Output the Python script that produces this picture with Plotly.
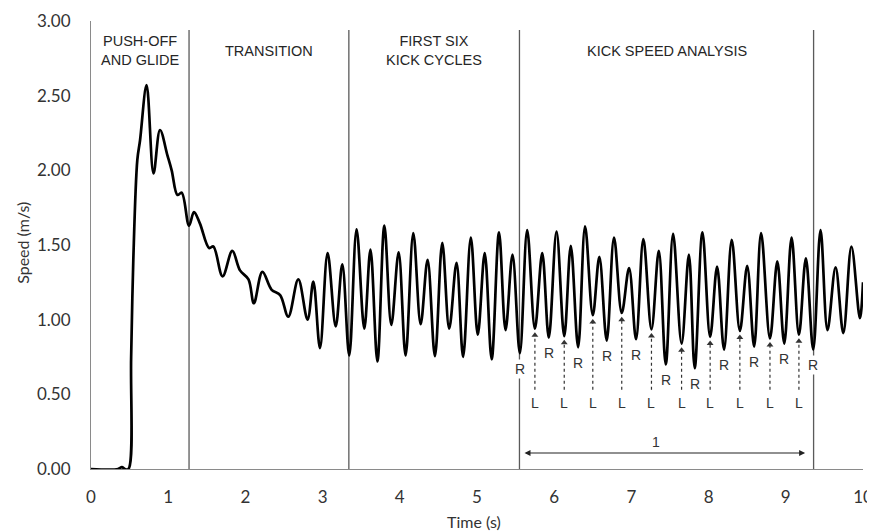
import numpy as np
import plotly.graph_objects as go

# ---- data ----
time_s = [0, 0.35, 0.40, 0.44, 0.485, 0.52, 0.548, 0.60, 0.635, 0.72, 0.81, 0.894, 0.99, 1.045,
          1.12, 1.175, 1.27, 1.334, 1.41, 1.53, 1.585, 1.705, 1.83, 1.93, 2.04, 2.11, 2.22, 2.34,
          2.45, 2.555, 2.685, 2.805, 2.88, 2.966, 3.065, 3.17, 3.255, 3.345, 3.44, 3.54, 3.62,
          3.71, 3.80, 3.89, 3.985, 4.075, 4.175, 4.27, 4.36, 4.455, 4.55, 4.64, 4.735, 4.82,
          4.92, 5.01, 5.10, 5.19, 5.285, 5.37, 5.46, 5.555, 5.65, 5.75, 5.845, 5.93, 6.03, 6.13,
          6.215, 6.31, 6.40, 6.50, 6.585, 6.68, 6.775, 6.875, 6.97, 7.06, 7.155, 7.26, 7.355,
          7.445, 7.54, 7.65, 7.745, 7.82, 7.92, 8.02, 8.11, 8.20, 8.30, 8.405, 8.50, 8.59, 8.68,
          8.795, 8.89, 8.98, 9.075, 9.17, 9.26, 9.355, 9.45, 9.54, 9.645, 9.745, 9.85, 9.96, 10.0]
speed = [0, 0, 0.012, 0.0, 0.0, 0.75, 1.40, 2.07, 2.20, 2.57, 1.98, 2.27, 2.10, 2.00,
         1.835, 1.85, 1.63, 1.72, 1.645, 1.48, 1.49, 1.29, 1.46, 1.33, 1.27, 1.11, 1.32, 1.20,
         1.165, 1.02, 1.27, 1.00, 1.255, 0.81, 1.445, 0.955, 1.37, 0.76, 1.605, 0.94, 1.47,
         0.72, 1.63, 0.965, 1.45, 0.76, 1.58, 0.97, 1.40, 0.755, 1.515, 0.94, 1.38, 0.75,
         1.55, 0.90, 1.445, 0.735, 1.585, 0.93, 1.435, 0.775, 1.60, 0.94, 1.445, 0.88, 1.59, 0.89,
         1.495, 0.815, 1.625, 1.03, 1.42, 0.86, 1.55, 1.045, 1.345, 0.87, 1.54, 0.935, 1.46,
         0.70, 1.575, 0.84, 1.435, 0.675, 1.585, 0.885, 1.355, 0.80, 1.535, 0.925, 1.36, 0.82, 1.58,
         0.875, 1.39, 0.84, 1.55, 0.90, 1.41, 0.80, 1.60, 0.93, 1.35, 0.91, 1.49, 1.01, 1.25]

phase_bounds = [1.27, 3.34, 5.55, 9.36]
phase_labels = ["PUSH-OFF<br>AND GLIDE", "TRANSITION", "FIRST SIX<br>KICK CYCLES", "KICK SPEED ANALYSIS"]
phase_top = 2.94
x_ticks = [0, 1, 2, 3, 4, 5, 6, 7, 8, 9, 10]
y_ticks = [0.0, 0.5, 1.0, 1.5, 2.0, 2.5, 3.0]
window_arrow = [5.596, 9.25]
window_arrow_y = 0.107
window_label = "1"
window_label_x = 7.32

# ---- derived: troughs in the kick analysis window, alternating R / L ----
t = np.array(time_s)
v = np.array(speed)
trough_idx = [i for i in range(1, len(v) - 1)
              if v[i] < v[i - 1] and v[i] < v[i + 1]
              and phase_bounds[2] - 0.05 <= t[i] <= phase_bounds[3] + 0.05]
r_idx = trough_idx[0::2]
l_idx = trough_idx[1::2]

fig = go.Figure()

# phase boundary lines
for b in phase_bounds:
    fig.add_shape(type="line", x0=b, x1=b, y0=0, y1=phase_top, xref="x", yref="y",
                  line=dict(color="#5a5a5a", width=1.3), layer="below")

# speed curve
fig.add_trace(go.Scatter(x=time_s, y=speed, mode="lines",
                         line=dict(color="black", width=2.7, shape="spline", smoothing=1.0),
                         hoverinfo="skip", showlegend=False))

# dashed L arrows
ax_, ay_ = [], []
for i in l_idx:
    ax_ += [t[i], t[i], None]
    ay_ += [0.53, v[i] - 0.05, None]
fig.add_trace(go.Scatter(x=ax_, y=ay_, mode="lines",
                         line=dict(color="#333333", width=1.2, dash="dot"),
                         hoverinfo="skip", showlegend=False))
fig.add_trace(go.Scatter(x=[t[i] for i in l_idx], y=[v[i] - 0.045 for i in l_idx], mode="markers",
                         marker=dict(symbol="triangle-up", size=6, color="#333333"),
                         hoverinfo="skip", showlegend=False))

lab_font = dict(family="Liberation Sans, Arial, sans-serif", size=14, color="#333333")
for i in l_idx:
    fig.add_annotation(x=t[i], y=0.442, text="L", showarrow=False, font=lab_font)
for i in r_idx:
    fig.add_annotation(x=t[i], y=v[i] - 0.105, text="R", showarrow=False, font=lab_font,
                       bgcolor="white", borderpad=1)

# phase labels
edges = [0] + phase_bounds
for k, lab in enumerate(phase_labels):
    fig.add_annotation(x=(edges[k] + edges[k + 1]) / 2, y=2.80, text=lab, showarrow=False,
                       font=dict(family="Liberation Sans, Arial, sans-serif", size=14.5, color="#262626"))

# double-headed window arrow
fig.add_annotation(x=window_arrow[1], y=window_arrow_y, ax=window_arrow[0], ay=window_arrow_y,
                   xref="x", yref="y", axref="x", ayref="y", text="", showarrow=True,
                   arrowside="end+start", arrowhead=2, arrowsize=1, arrowwidth=1.2,
                   arrowcolor="#222222")
fig.add_annotation(x=window_label_x, y=0.183, text=window_label, showarrow=False, font=lab_font)

# axis titles
title_font = dict(family="Lato, sans-serif", size=16, color="#333333")
fig.add_annotation(xref="paper", yref="paper", x=0.496, y=-0.118, text="Time (s)",
                   xanchor="center", yanchor="middle", showarrow=False, font=title_font)
fig.add_annotation(xref="paper", yref="paper", x=-0.088, y=0.505, text="Speed (m/s)",
                   xanchor="center", yanchor="middle", textangle=-90, showarrow=False,
                   font=title_font)

tick_font = dict(family="Lato, sans-serif", size=17, color="#333333")
fig.update_xaxes(range=[0, 10], tickvals=x_ticks, showgrid=False, zeroline=False,
                 showline=True, linecolor="#8a8a8a", linewidth=1.2, ticks="",
                 tickfont=tick_font, ticklabelstandoff=12, automargin=False)
fig.update_yaxes(range=[0, 3], tickvals=y_ticks, tickformat=".2f", showgrid=False,
                 zeroline=False, showline=True, linecolor="#8a8a8a", linewidth=1.2, ticks="",
                 tickfont=tick_font, ticklabelstandoff=16, automargin=False)

# page body has an 8px margin: margins compensate so the plot lands where the reference has it
fig.update_layout(width=867, height=524, margin=dict(l=83, r=12, t=13, b=63, autoexpand=False),
                  plot_bgcolor="white", paper_bgcolor="white", showlegend=False)

fig.write_html("out.html")
